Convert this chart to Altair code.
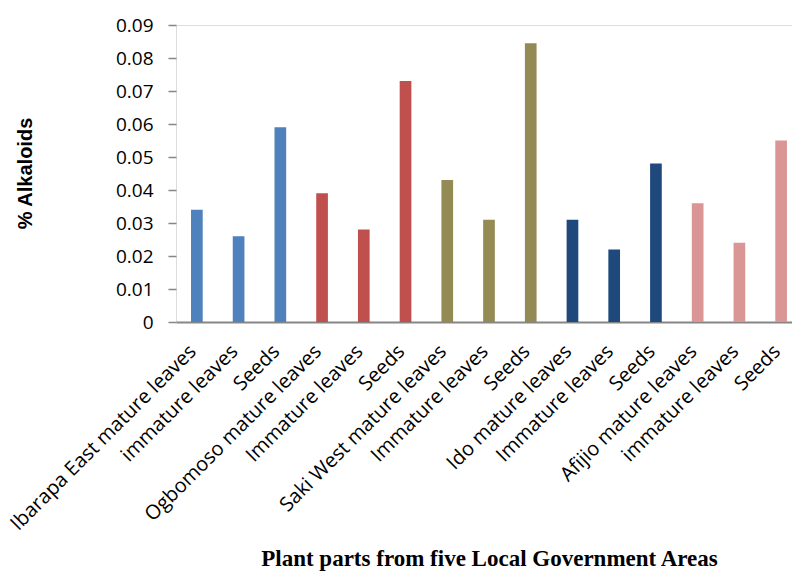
import json

import altair as alt
import pandas as pd

# Plant parts sampled in each Local Government Area (x-axis tick labels)
part_labels = [
    "Ibarapa East mature leaves", "immature leaves", "Seeds",
    "Ogbomoso mature leaves", "Immature leaves", "Seeds",
    "Saki West mature leaves", "Immature leaves", "Seeds",
    "Ido mature leaves", "Immature leaves", "Seeds",
    "Afijio mature leaves", "immature leaves", "Seeds",
]

# Local Government Area of each bar
area_names = ["Ibarapa East", "Ogbomoso", "Saki West", "Ido", "Afijio"]
areas = [a for a in area_names for _ in range(3)]
area_colors = ["#4F81BD", "#C0504D", "#948A54", "#1F497D", "#D99694"]

# % alkaloids
alkaloids = [
    0.034, 0.026, 0.059,
    0.039, 0.028, 0.073,
    0.043, 0.031, 0.0845,
    0.031, 0.022, 0.048,
    0.036, 0.024, 0.055,
]

y_ticks = [0, 0.01, 0.02, 0.03, 0.04, 0.05, 0.06, 0.07, 0.08, 0.09]

df = pd.DataFrame({
    "idx": list(range(len(part_labels))),
    "part": part_labels,
    "area": areas,
    "alkaloid": alkaloids,
})

label_expr = json.dumps(part_labels) + "[datum.value]"

chart = alt.Chart(df).mark_bar().encode(
    x=alt.X(
        "idx:O",
        scale=alt.Scale(range=[0, 626], paddingInner=0.72, paddingOuter=0.36),
        axis=alt.Axis(
            labelExpr=label_expr,
            labelAngle=-45,
            labelFont="Open Sans",
            labelFontSize=20,
            labelColor="#000000",
            labelPadding=19,
            labelOffset=-11,
            labelLimit=400,
            labelOverlap=False,
            ticks=False,
            domain=True,
            domainColor="#868686",
            domainWidth=2,
            grid=False,
            title="Plant parts from five Local Government Areas",
            titleFont="Liberation Serif",
            titleFontSize=23,
            titleFontWeight="bold",
            titleColor="#000000",
            titleX=313,
            titleY=243,
            titleAlign="center",
            titleBaseline="alphabetic",
        ),
    ),
    y=alt.Y(
        "alkaloid:Q",
        scale=alt.Scale(domain=[0, 0.09], nice=False),
        axis=alt.Axis(
            values=y_ticks,
            labelExpr="datum.value == 0 ? '0' : format(datum.value, '.2f')",
            labelFont="Open Sans",
            labelFontSize=19,
            labelColor="#000000",
            labelPadding=15,
            domain=False,
            grid=False,
            ticks=True,
            tickColor="#868686",
            tickSize=8,
            tickWidth=1.5,
            title="% Alkaloids",
            titleFont="Liberation Sans",
            titleFontSize=20,
            titleFontWeight="bold",
            titleColor="#000000",
            titleAngle=-90,
            titleX=-151,
            titleY=148,
            titleAlign="center",
            titleBaseline="middle",
        ),
    ),
    color=alt.Color(
        "area:N",
        scale=alt.Scale(domain=area_names, range=area_colors),
        legend=None,
    ),
).properties(
    width=616,
    height=297,
    autosize=alt.AutoSizeParams(type="none"),
    padding={"left": 176, "top": 25, "right": 0, "bottom": 255},
).configure_view(
    stroke=None,
).configure(
    background="#ffffff",
)

chart.save("out.html", embed_options={"renderer": "svg", "actions": False})
